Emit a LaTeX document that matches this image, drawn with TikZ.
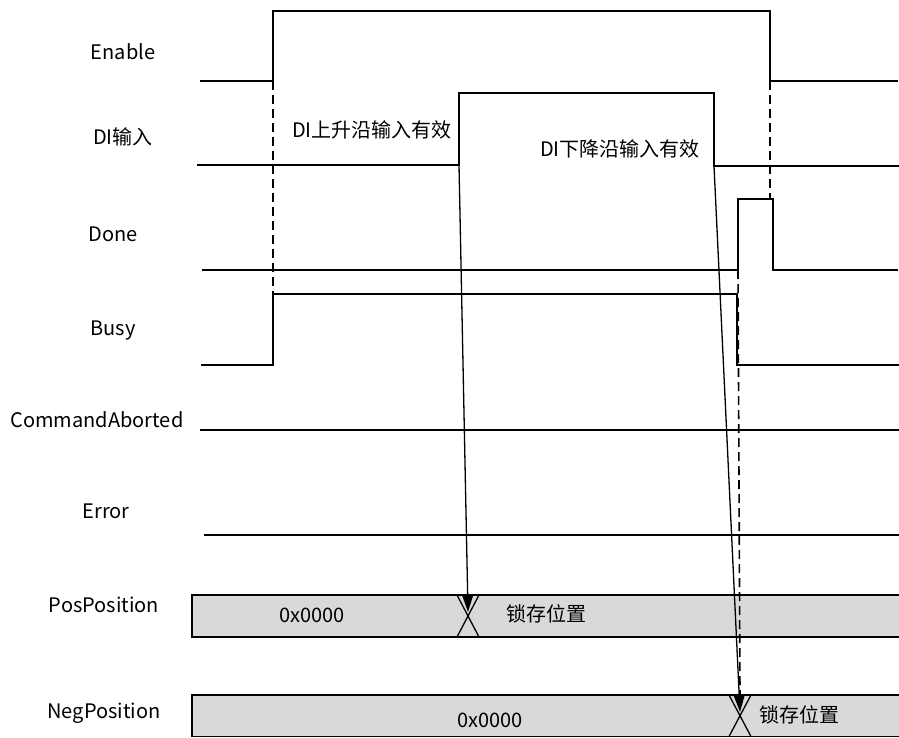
\documentclass[tikz,border=0pt]{standalone}
\usepackage{fontspec}
\setmainfont{Noto Sans CJK SC}
\usetikzlibrary{arrows.meta}
\begin{document}
\begin{tikzpicture}[x=1bp,y=-1bp,
  lab/.style={font=\fontsize{20bp}{23bp}\selectfont, inner sep=0pt, anchor=center},
  sig/.style={line width=2.2bp, line join=miter, line cap=rect},
  dsh/.style={line width=1.6bp, dash pattern=on 9bp off 5bp},
  arr/.style={line width=1.3bp, -{Triangle[length=17bp,width=11bp]}},
  busbar/.style={draw=black, line width=1.5bp, fill=gray!30},
  xc/.style={line width=1.3bp}]
\useasboundingbox (0,0) rectangle (899,738);
% labels
\node[lab] (lEn) at (123,52) {Enable};
\node[lab] (lDI) at (123,137) {DI输入};
\node[lab] (lDone) at (113,234) {Done};
\node[lab] (lBusy) at (113,331) {Busy};
\node[lab] (lCA) at (97,420) {CommandAborted};
\node[lab] (lErr) at (106,511) {Error};
\node[lab] (lPos) at (104,605) {PosPosition};
\node[lab] (lNeg) at (104,713) {NegPosition};
% transition points
\coordinate (enUp) at (273,81);
\coordinate (enDn) at (770,81);
\coordinate (diUp) at (459,165);
\coordinate (diDn) at (714,166);
\coordinate (doneUp) at (738,270);
\coordinate (doneTop) at (770,199);
\coordinate (busyUp) at (273,294);
\coordinate (posX) at (468,612);
\coordinate (negX) at (740,712);
\coordinate (negTop) at (740,694);
% bars
\draw[busbar] (192,595) rectangle (903,637);
\draw[busbar] (192,695) rectangle (903,736.5);
\draw[xc] (457,595) -- (479,637) (479,595) -- (457,637);
\draw[xc] (729,695) -- (751,736.5) (751,695) -- (729,736.5);
\node[lab] (v1) at (312,615) {0x0000};
\node[lab, anchor=west] (v2) at (506,614) {锁存位置};
\node[lab] (v3) at (490,720) {0x0000};
\node[lab, anchor=west] (v4) at (759,715) {锁存位置};
% signals
\draw[sig] (201,81) -- (enUp) -- (273,11) -- (770,11) -- (enDn) -- (897,81);
\draw[sig] (198,165) -- (diUp) -- (459,93) -- (714,93) -- (diDn) -- (899,166);
\draw[sig] (203,270) -- (doneUp) -- (738,199) -- (773,199) -- (773,270) -- (897,270);
\draw[sig] (202,365) -- (273,365) -- (busyUp) -- (737,294) -- (737,365) -- (899,365);
\draw[sig] (201,430) -- (899,430);
\draw[sig] (205,535) -- (899,535);
% dashed guides
\draw[dsh] (enUp) -- (busyUp);
\draw[dsh] (enDn) -- (doneTop);
\draw[dsh] (doneUp) -- (negTop);
% annotations
\node[lab] (t1) at (372,130) {DI上升沿输入有效};
\node[lab] (t2) at (620,149) {DI下降沿输入有效};
% arrows
\draw[arr] (diUp) -- (posX);
\draw[arr] (diDn) -- (negX);
\end{tikzpicture}
\end{document}
